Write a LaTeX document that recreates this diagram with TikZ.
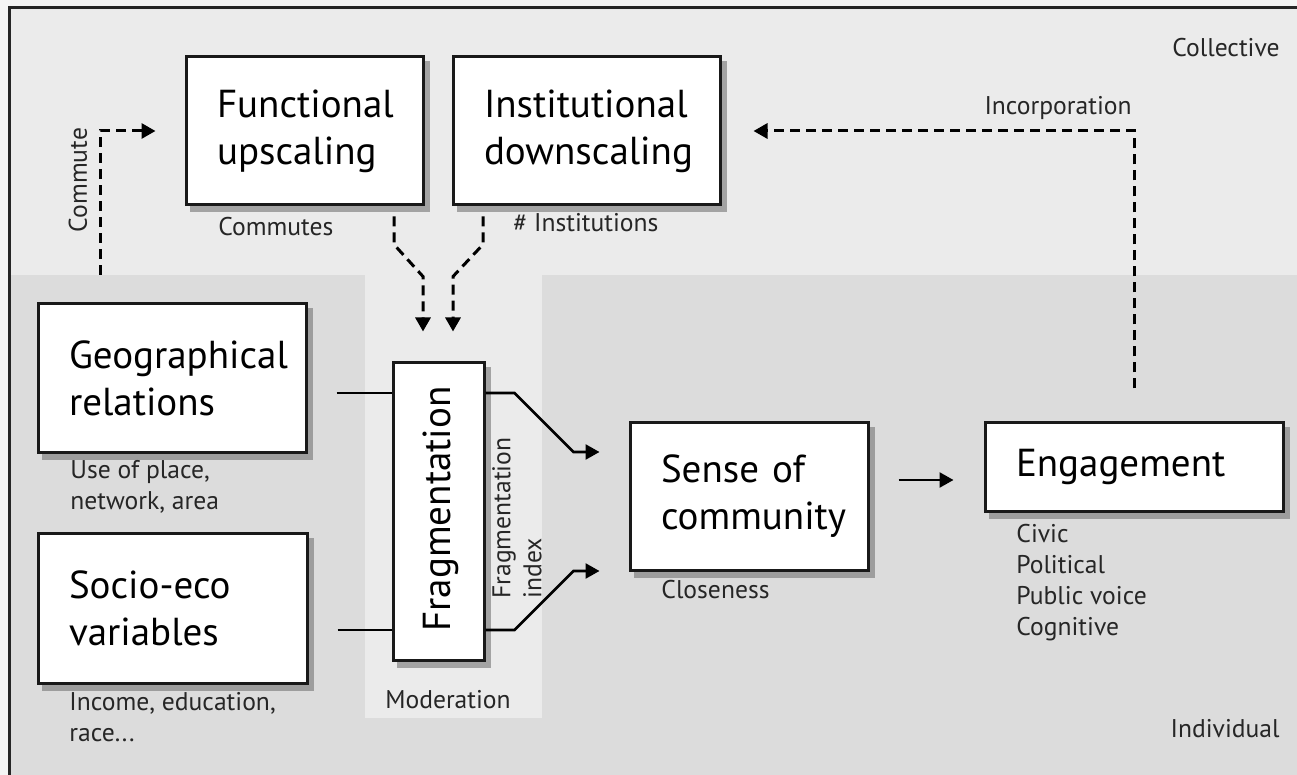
\documentclass[tikz,border=0pt]{standalone}
\usepackage{fontspec}
\setmainfont{PT Sans}
\usetikzlibrary{arrows.meta,backgrounds}
\hyphenpenalty=10000
\exhyphenpenalty=10000

\definecolor{paneltop}{HTML}{EBEBEB}
\definecolor{panellow}{HTML}{DCDCDC}

\tikzset{
  blockbox/.style={draw=black!90, line width=1.5pt, fill=white, align=left,
    inner xsep=15.5pt, inner ysep=0pt,
    font=\fontsize{19.5}{23.5}\selectfont},
  boxshadow/.style={fill=black!55, opacity=0.6},
  note/.style={inner sep=0pt, align=left, text=black!85,
    font=\fontsize{12.8}{15.5}\selectfont},
  dasharrow/.style={line width=1.5pt, dash pattern=on 5pt off 3pt,
    -{Triangle[length=7pt,width=7.5pt]}},
  linkline/.style={line width=1.3pt},
  linkarrow/.style={line width=1.3pt, -{Triangle[length=7pt,width=7.5pt]}}
}

\begin{document}
\begin{tikzpicture}[x=0.5pt,y=-0.5pt]
\useasboundingbox (0,0) rectangle (1297,775);

% blocks
\node[blockbox, text width=87.5pt, minimum height=74pt] (func) at (304.5,131) {Functional\\upscaling};
\node[blockbox, text width=102.5pt, minimum height=74pt] (inst) at (586.5,131) {Institutional\\downscaling};
\node[blockbox, text width=103pt, minimum height=74.5pt] (geo) at (172,378.5) {Geographical\\relations};
\node[blockbox, text width=103.5pt, minimum height=75pt] (socio) at (172.5,608) {Socio-eco\\variables};
\node[blockbox, minimum width=45.5pt, minimum height=148.5pt, inner xsep=0pt] (frag) at (438.5,511.5) {};
\node[rotate=90, inner sep=0pt, font=\fontsize{19.5}{23.5}\selectfont] (fragtext) at (441,509) {Fragmentation};
\node[blockbox, text width=88pt, minimum height=73.5pt] (sense) at (749,496.5) {Sense of\\community};
\node[blockbox, text width=118pt, minimum height=44pt] (engage) at (1134,467) {Engagement};

% panels and shadows
\begin{scope}[on background layer]
\fill[black!4] (0,0) rectangle (1297,775);
\fill[paneltop] (9,8) rectangle (1297,775);
\fill[panellow] (9,275) rectangle (365,775);
\fill[panellow] (542,275) rectangle (1297,775);
\fill[panellow] (365,718) rectangle (542,775);
\draw[line width=1.5pt, black!85] (9,775) -- (9,8) -- (1297,8);
\foreach \b in {func,inst,geo,socio,frag,sense,engage}
  \fill[boxshadow] ([xshift=2.5pt,yshift=-3pt]\b.south west) rectangle ([xshift=2.5pt,yshift=-3pt]\b.north east);
\end{scope}

% labels
\node[note, anchor=east] (collective) at (1280,48) {Collective};
\node[note, anchor=east] (individual) at (1280,729) {Individual};
\node[note, anchor=east] (incorp) at (1132,108) {Incorporation};
\node[note, rotate=90] (commute) at (78,180) {Commute};
\node[note, anchor=west] (commutes) at (218,227) {Commutes};
\node[note, anchor=west] (instlabel) at (513,223) {\# Institutions};
\node[note, anchor=north west] (geolabel) at (70,460) {Use of place,\\network, area};
\node[note, anchor=north west] (sociolabel) at (69,692) {Income, education,\\race...};
\node[note] (moderation) at (448,700) {Moderation};
\node[note, rotate=90] (fragindex) at (517,518) {Fragmentation\\index};
\node[note, anchor=west] (closeness) at (661,590) {Closeness};
\node[note, anchor=north west] (engagelabel) at (1016,524) {Civic\\Political\\Public voice\\Cognitive};

% connectors
\coordinate (cmt) at (100,275);
\draw[dasharrow, shorten >=14.5pt] (cmt) |- (func.west);
\draw[dasharrow, shorten <=16.5pt, shorten >=16pt] (engage.north) |- (inst.east);
\draw[dasharrow, shorten <=5pt, shorten >=15pt] ([xshift=44.75pt]func.south) -- ++(0,38) -- ++(29,32) -- ([xshift=-7.75pt]frag.north);
\draw[dasharrow, shorten <=5pt, shorten >=15pt] ([xshift=-51.75pt]inst.south) -- ++(0,38) -- ++(-30,32) -- ([xshift=7.25pt]frag.north);

\draw[linkline, shorten <=14.5pt] ([yshift=-7.25pt]geo.east) -- ([yshift=-7.25pt]geo.east -| frag.west);
\draw[linkline, shorten <=14.5pt] ([yshift=-11pt]socio.east) -- ([yshift=-11pt]socio.east -| frag.west);
\draw[linkarrow, shorten >=14.5pt] ([yshift=-7.25pt]geo.east -| frag.east) -- ++(29,0) -- ++(59,59) -- ([yshift=22.25pt]sense.west);
\draw[linkarrow, shorten >=14.5pt] ([yshift=-11pt]socio.east -| frag.east) -- ++(29,0) -- ++(59,-59) -- ([yshift=-37.25pt]sense.west);
\draw[linkarrow, shorten <=14.5pt, shorten >=15pt] ([yshift=8.25pt]sense.east) -- ([yshift=8.25pt]sense.east -| engage.west);
\end{tikzpicture}
\end{document}
